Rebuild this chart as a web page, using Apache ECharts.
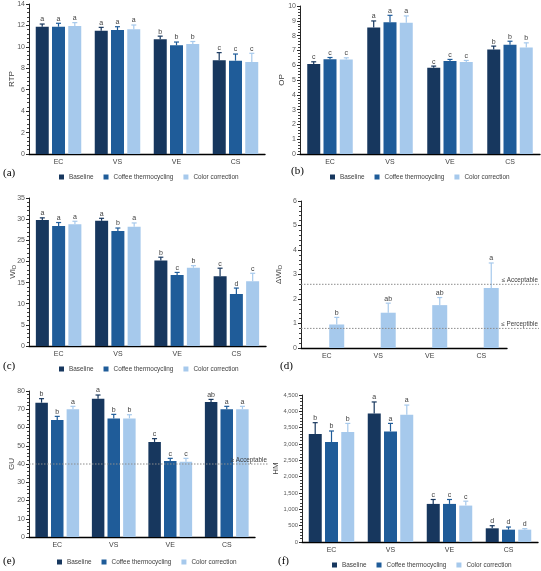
<!DOCTYPE html>
<html><head><meta charset="utf-8">
<script src="https://cdn.jsdelivr.net/npm/echarts@6/dist/echarts.min.js"></script>
<style>html,body{margin:0;padding:0;background:#fff}#c{width:541px;height:571px}</style>
</head><body><div id="c"></div>
<script>
const categories = ['EC','VS','VE','CS'];
const groupNames = ['Baseline','Coffee thermocycling','Color correction'];

// (a) RTP
const rtpBaseline = [11.88, 11.51, 10.70, 8.74];
const rtpCoffee   = [11.88, 11.57, 10.14, 8.71];
const rtpColor    = [11.95, 11.64, 10.27, 8.59];
const rtpErrBaseline = [0.25, 0.31, 0.30, 0.72];
const rtpErrCoffee   = [0.32, 0.31, 0.31, 0.62];
const rtpErrColor    = [0.31, 0.40, 0.23, 0.81];
const rtpLetters = [['a','a','b','c'],['a','a','b','c'],['a','a','b','c']];
const rtpTicks = [0, 14, 2];

// (b) OP
const opBaseline = [6.08, 8.54, 5.83, 7.06];
const opCoffee   = [6.41, 8.90, 6.28, 7.38];
const opColor    = [6.39, 8.86, 6.21, 7.20];
const opErrBaseline = [0.15, 0.45, 0.11, 0.23];
const opErrCoffee   = [0.11, 0.47, 0.11, 0.24];
const opErrColor    = [0.11, 0.47, 0.11, 0.31];
const opLetters = [['c','a','c','b'],['c','a','c','b'],['c','a','c','b']];
const opTicks = [0, 10, 1];

// (c) WID
const wiBaseline = [29.8, 29.6, 20.2, 16.5];
const wiCoffee   = [28.4, 27.2, 16.8, 12.3];
const wiColor    = [28.8, 28.2, 18.5, 15.3];
const wiErrBaseline = [0.5, 0.6, 0.8, 1.9];
const wiErrCoffee   = [0.8, 0.7, 0.6, 1.4];
const wiErrColor    = [0.7, 0.9, 0.5, 1.9];
const wiLetters = [['a','a','b','c'],['a','b','c','d'],['a','a','b','c']];
const wiTicks = [0, 35, 5];

// (d) ΔWID
const dwiColor = [0.96, 1.44, 1.75, 2.45];
const dwiErrColor = [0.29, 0.39, 0.31, 1.02];
const dwiLetters = ['b','ab','ab','a'];
const dwiTicks = [0, 6, 1];
const dwiLimits = [2.6, 0.8];
const dwiLimitLabels = ['\u2264 Acceptable', '\u2264 Perceptible'];

// (e) GU
const guBaseline = [73.6, 75.8, 52.1, 74.0];
const guCoffee   = [64.1, 65.0, 41.6, 70.0];
const guColor    = [70.0, 65.0, 41.3, 70.0];
const guErrBaseline = [2.2, 2.0, 1.8, 1.4];
const guErrCoffee   = [2.0, 2.2, 1.5, 1.6];
const guErrColor    = [1.6, 2.0, 1.8, 1.6];
const guLetters = [['b','a','c','ab'],['b','b','c','a'],['a','b','c','a']];
const guTicks = [0, 80, 10];
const guLimits = [40];
const guLimitLabels = ['\u2265 Acceptable'];

// (f) HM
const hmBaseline = [3303, 3937, 1166, 419];
const hmCoffee   = [3058, 3385, 1166, 378];
const hmColor    = [3365, 3897, 1115, 378];
const hmErrBaseline = [350, 350, 135, 80];
const hmErrCoffee   = [340, 245, 135, 80];
const hmErrColor    = [265, 295, 135, 30];
const hmLetters = [['b','a','c','d'],['b','a','c','d'],['b','a','c','d']];
const hmTicks = [0, 4500, 500];

const panelLabels = ['(a)','(b)','(c)','(d)','(e)','(f)'];

const FONT = '"Liberation Sans", Arial, sans-serif';
const COLORS = ['#17375E', '#1F5C99', '#A6C9EC'];

const option = {animation:false, backgroundColor:'#fff', grid:[], xAxis:[], yAxis:[], series:[], legend:[], graphic:[]};

function addPanel(i, p) {
  option.grid.push({left:p.g[0], top:p.g[1], width:p.g[2], height:p.g[3]});
  option.xAxis.push({type:'category', gridIndex:i, data:categories,
    axisLine:{lineStyle:{color:'#000', width:1.4}}, axisTick:{show:false},
    axisLabel:{fontSize:7, color:'#404040', margin:5, fontFamily:FONT}});
  option.yAxis.push({type:'value', gridIndex:i, min:p.ticks[0], max:p.ticks[1], interval:p.ticks[2],
    name:p.name, nameLocation:'middle', nameGap:p.nameGap, nameRotate:90, nameMoveOverlap:false,
    nameTextStyle:{fontSize:8, color:'#404040', fontFamily:FONT, rich:{
      m:{fontSize:8, color:'#404040', fontFamily:FONT},
      s:{fontSize:5.5, color:'#404040', fontFamily:FONT, verticalAlign:'bottom', padding:[3,0,0,0]}}},
    axisLine:{show:true, lineStyle:{color:'#262626', width:1}},
    axisTick:{show:true, length:3, lineStyle:{color:'#262626'}},
    minorTick:{show:true, splitNumber:5, length:2, lineStyle:{color:'#404040'}},
    splitLine:{show:false},
    axisLabel:{fontSize:p.labelSize || 7, color:'#595959', margin:4, fontFamily:FONT, formatter:p.fmt}});
  const n = p.slots;
  for (let k = 0; k < n; k++) {
    const grp = p.groups.find(g => g.slot === k);
    option.series.push({type:'bar', name: grp ? grp.name : '', xAxisIndex:i, yAxisIndex:i,
      data: grp ? grp.mean : categories.map(() => null),
      barWidth:p.bw, barGap:p.gapPct, silent:true,
      itemStyle:{color: grp ? grp.color : 'transparent'}});
  }
  const errData = [], errCols = [], errLet = [];
  p.groups.forEach(g => {
    categories.forEach((c, ci) => {
      errData.push([ci, g.mean[ci], g.err[ci], g.slot]);
      errCols.push(g.color); errLet.push(g.letters[ci]);
    });
  });
  const step = p.bw + p.gap;
  option.series.push({type:'custom', xAxisIndex:i, yAxisIndex:i, z:5, silent:true, data:errData,
    renderItem:function(params, api){
      const c = api.value(0), m = api.value(1), e = api.value(2), k = api.value(3);
      const p0 = api.coord([c, m]), p1 = api.coord([c, m + e]);
      const x = p0[0] + (k - (n - 1) / 2) * step;
      const col = errCols[params.dataIndex];
      return {type:'group', children:[
        {type:'line', shape:{x1:x, y1:p0[1], x2:x, y2:p1[1]}, style:{stroke:col, lineWidth:1.2}},
        {type:'line', shape:{x1:x-2.5, y1:p1[1], x2:x+2.5, y2:p1[1]}, style:{stroke:col, lineWidth:1.2}},
        {type:'text', x:x, y:p1[1]-1, style:{text:errLet[params.dataIndex], fill:'#404040',
          fontSize:7, fontFamily:FONT, align:'center', verticalAlign:'bottom',
          textAlign:'center', textVerticalAlign:'bottom'}}
      ]};
    }});
  if (p.limits) {
    const labs = p.limitLabels, ext = p.ext;
    option.series.push({type:'custom', xAxisIndex:i, yAxisIndex:i, z:6, silent:true,
      data:p.limits.map(v => [0, v]),
      renderItem:function(params, api){
        const y = api.coord([0, api.value(1)])[1];
        const cs = params.coordSys;
        const x1 = cs.x, x2 = cs.x + cs.width + ext;
        return {type:'group', children:[
          {type:'line', shape:{x1:x1, y1:y, x2:x2, y2:y}, style:{stroke:'#8c8c8c', lineWidth:1, lineDash:[1.5,1.5]}},
          {type:'text', x:x2-1, y:y-1, style:{text:labs[params.dataIndex], fill:'#404040', fontSize:6.3,
            fontFamily:FONT, align:'right', verticalAlign:'bottom', textAlign:'right', textVerticalAlign:'bottom'}}
        ]};
      }});
  }
  if (p.legend) {
    option.legend.push({left:p.legend[0], top:p.legend[1], data:groupNames, icon:'rect', itemWidth:5, itemHeight:5,
      itemGap:10, padding:0, selectedMode:false, textStyle:{fontSize:6.4, color:'#404040', fontFamily:FONT}});
  }
}

function groups3(means, errs, letters) {
  return means.map((m, k) => ({name:groupNames[k], color:COLORS[k], mean:m, err:errs[k], letters:letters[k], slot:k}));
}

addPanel(0, {g:[29, 4, 236, 150], ticks:rtpTicks, name:'RTP', nameGap:13, bw:13, gap:3.3, gapPct:'25%', slots:3,
  groups:groups3([rtpBaseline, rtpCoffee, rtpColor], [rtpErrBaseline, rtpErrCoffee, rtpErrColor], rtpLetters), legend:[59, 174]});
addPanel(1, {g:[300, 6, 240, 148], ticks:opTicks, name:'OP', nameGap:14, bw:13, gap:3.3, gapPct:'25%', slots:3,
  groups:groups3([opBaseline, opCoffee, opColor], [opErrBaseline, opErrCoffee, opErrColor], opLetters), legend:[330, 174]});
addPanel(2, {g:[29, 198, 237, 148], ticks:wiTicks, name:'{m|WI}{s|D}', nameGap:12, bw:13, gap:3.3, gapPct:'25%', slots:3,
  groups:groups3([wiBaseline, wiCoffee, wiColor], [wiErrBaseline, wiErrCoffee, wiErrColor], wiLetters), legend:[59, 366]});
addPanel(3, {g:[301, 201, 206, 147], ticks:dwiTicks, name:'{m|\u0394WI}{s|D}', nameGap:18, bw:15, gap:5, gapPct:'33%', slots:2,
  groups:[{name:groupNames[2], color:COLORS[2], mean:dwiColor, err:dwiErrColor, letters:dwiLetters, slot:1}],
  limits:dwiLimits, limitLabels:dwiLimitLabels, ext:32});
addPanel(4, {g:[29, 391, 226, 146], ticks:guTicks, name:'GU', nameGap:13, bw:12.5, gap:3.2, gapPct:'25%', slots:3,
  groups:groups3([guBaseline, guCoffee, guColor], [guErrBaseline, guErrCoffee, guErrColor], guLetters),
  limits:guLimits, limitLabels:guLimitLabels, ext:13, legend:[57, 559]});
addPanel(5, {g:[302, 395, 236, 147], ticks:hmTicks, name:'HM', nameGap:22, labelSize:5.8, bw:13, gap:3.3, gapPct:'25%', slots:3,
  fmt: v => v.toLocaleString('en-US'),
  groups:groups3([hmBaseline, hmCoffee, hmColor], [hmErrBaseline, hmErrCoffee, hmErrColor], hmLetters), legend:[332, 562]});

const labelPos = [[3,175],[291,173],[3,368],[280,368],[3,563],[278,563]];
panelLabels.forEach((t, i) => {
  option.graphic.push({type:'text', left:labelPos[i][0], top:labelPos[i][1]-7,
    style:{text:t, fill:'#000', fontSize:11, fontFamily:'"Liberation Serif", "Times New Roman", serif'}});
});

const chart = echarts.init(document.getElementById('c'), null, {renderer:'canvas'});
chart.setOption(option);
</script></body></html>
